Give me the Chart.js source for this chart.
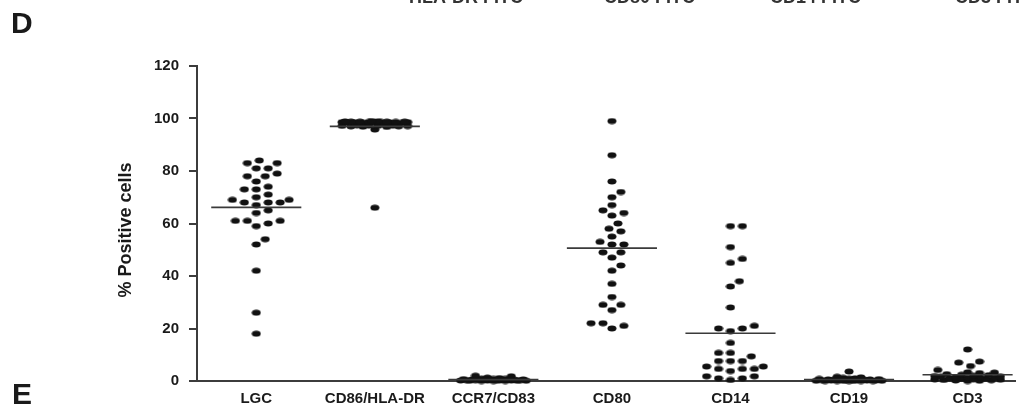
<!DOCTYPE html>
<html>
<head>
<meta charset="utf-8">
<script src="https://cdn.jsdelivr.net/npm/chart.js@4.4.1/dist/chart.umd.min.js"></script>
<style>
  html, body { margin: 0; padding: 0; background: #fff; }
  #wrap { position: relative; width: 1020px; height: 411px; }
</style>
</head>
<body>
<div id="wrap"><canvas id="chart"></canvas></div>
<script>
const categories = ['LGC', 'CD86/HLA-DR', 'CCR7/CD83', 'CD80', 'CD14', 'CD19', 'CD3'];
const yTicks = [0, 20, 40, 60, 80, 100, 120];
const topLabels = ['HLA-DR FITC', 'CD80 FITC', 'CD14 FITC', 'CD3 FITC'];

const lgc = [83, 83, 84, 81, 81, 79, 78, 78, 76, 74, 73, 73, 71, 70, 69, 69, 68, 68, 68, 67, 65, 64, 61, 61, 61, 60, 59, 54, 52, 42, 26, 18];
const cd86 = [99.0, 98.9, 98.9, 98.8, 98.8, 98.8, 98.8, 98.7, 98.7, 98.7, 98.6, 98.6, 98.6, 98.5, 98.5, 98.4, 98.4, 98.3,
  97.6, 97.4, 97.3, 97.3, 97.2, 97.2, 97.1, 97.0, 97.0, 96.9, 96.8, 95.8, 66.0];
const ccr7 = [2.0, 1.8, 1.3, 1.1, 0.9, 0.8, 0.8, 0.7, 0.6, 0.6, 0.5, 0.5, 0.5, 0.4, 0.4, 0.4, 0.3, 0.3, 0.3, 0.3,
  0.2, 0.2, 0.2, 0.2, 0.1, 0.1, 0.1, 0.0, 0.0, 0.0];
const cd80 = [99, 86, 76, 72, 70, 67, 65, 64, 63, 60, 58, 57, 55, 53, 52, 52, 49, 49, 47, 44, 42, 37, 32, 29, 29, 27, 22, 22, 21, 20];
const cd14 = [59, 59, 51, 46.5, 45, 38, 36, 28, 21, 20, 20, 19, 14.5, 10.7, 10.7, 9.4, 7.6, 7.6, 7.6, 5.5, 5.5, 4.6, 4.6, 4.6, 3.8, 1.8, 1.8, 1.0, 1.0, 0.4];
const cd19 = [3.6, 1.6, 1.4, 1.2, 1.0, 0.9, 0.8, 0.7, 0.6, 0.6, 0.5, 0.5, 0.4, 0.4, 0.3, 0.3, 0.3, 0.2, 0.2, 0.2,
  0.1, 0.1, 0.1, 0.1, 0.0, 0.0, 0.0, 0.0, 0.0];
const cd3 = [12.0, 7.4, 7.0, 5.7, 4.2, 3.3, 3.2, 3.0, 2.6, 2.4, 2.2, 2.0, 1.9, 1.8, 1.6, 1.5, 1.4, 1.2, 1.1, 1.0,
  0.9, 0.8, 0.7, 0.6, 0.5, 0.4, 0.3, 0.2, 0.1, 0.0];

const groups = [lgc, cd86, ccr7, cd80, cd14, cd19, cd3];

// layout of the plot box inside the 1020x411 canvas
const AREA_LEFT = 197, AREA_TOP = 66, AREA_BOTTOM = 381, AREA_RIGHT = 1020;
const X_MIN = -0.5, X_MAX = 6.4;
const PX_X = (AREA_RIGHT - AREA_LEFT) / (X_MAX - X_MIN);
const PX_Y = (AREA_BOTTOM - AREA_TOP) / 120;

// simple beeswarm: lowest values first, shift sideways until the dot is free
function swarm(values, idx) {
  const W = 11.5, H = 6.5, STEP = 3, MAXOFF = 34;
  const cands = [0];
  for (let k = STEP; k <= MAXOFF; k += STEP) cands.push(k, -k);
  const placed = [];
  values.slice().sort((a, b) => a - b).forEach(v => {
    const py = v * PX_Y;
    let best = 0, bestScore = -1;
    for (const dx of cands) {
      let minD = Infinity;
      for (const p of placed) {
        const d = ((dx - p.dx) / W) ** 2 + ((py - p.py) / H) ** 2;
        if (d < minD) minD = d;
      }
      if (minD >= 1) { best = dx; bestScore = 99; break; }
      if (minD > bestScore) { bestScore = minD; best = dx; }
    }
    placed.push({ dx: best, py: py, v: v });
  });
  return placed.map(p => ({ x: idx + p.dx / PX_X, y: p.v }));
}

function mean(arr) {
  return arr.reduce((s, v) => s + v, 0) / arr.length;
}

function dotImage() {
  const c = document.createElement('canvas');
  c.width = 10; c.height = 7;
  const g = c.getContext('2d');
  g.fillStyle = '#111';
  g.beginPath();
  g.ellipse(5, 3.5, 4.5, 3.0, 0, 0, Math.PI * 2);
  g.fill();
  return c;
}
const dot = dotImage();

const datasets = [];
groups.forEach((vals, i) => {
  const m = mean(vals);
  datasets.push({
    type: 'line',
    data: [{ x: i - 0.38, y: m }, { x: i + 0.38, y: m }],
    borderColor: '#3a3a3a',
    borderWidth: 1.6,
    pointRadius: 0,
    showLine: true,
    clip: false
  });
});
groups.forEach((vals, i) => {
  datasets.push({
    type: 'scatter',
    data: swarm(vals, i),
    pointStyle: dot,
    pointRadius: 4,
    clip: false
  });
});

const textPlugin = {
  id: 'panelText',
  afterDraw(chart) {
    const ctx = chart.ctx;
    ctx.save();
    ctx.fillStyle = '#1a1a1a';
    ctx.font = 'bold 30px "Liberation Sans", Arial, sans-serif';
    ctx.textAlign = 'left';
    ctx.textBaseline = 'alphabetic';
    ctx.fillText('D', 11, 33);
    ctx.fillText('E', 12, 404);

    // labels of the panel above, cut by the top edge
    ctx.font = 'bold 18px "Liberation Sans", Arial, sans-serif';
    ctx.fillStyle = '#333';
    const starts = [409, 604, 770, 955];
    topLabels.forEach((t, i) => ctx.fillText(t, starts[i], 3));

    // y axis title
    ctx.fillStyle = '#1a1a1a';
    ctx.font = 'bold 18px "Liberation Sans", Arial, sans-serif';
    ctx.translate(126, 230);
    ctx.rotate(-Math.PI / 2);
    ctx.textAlign = 'center';
    ctx.textBaseline = 'middle';
    ctx.fillText('% Positive cells', 0, 0);
    ctx.restore();
  }
};

new Chart(document.getElementById('chart'), {
  type: 'scatter',
  data: { datasets: datasets },
  plugins: [textPlugin],
  options: {
    responsive: true,
    maintainAspectRatio: false,
    animation: false,
    layout: { padding: { top: AREA_TOP, right: 0, bottom: 0, left: 0 } },
    plugins: { legend: { display: false }, tooltip: { enabled: false } },
    scales: {
      x: {
        type: 'linear',
        min: X_MIN,
        max: X_MAX,
        afterFit: (scale) => { scale.height = 411 - AREA_BOTTOM; },
        afterBuildTicks: (scale) => { scale.ticks = categories.map((c, i) => ({ value: i })); },
        border: { display: true, color: '#3c3c3c', width: 2 },
        grid: { drawOnChartArea: false, drawTicks: false },
        ticks: {
          autoSkip: false,
          maxRotation: 0,
          padding: 9,
          color: '#1a1a1a',
          font: { family: '"Liberation Sans", Arial, sans-serif', size: 15, weight: 'bold' },
          callback: (v) => categories[v]
        }
      },
      y: {
        min: 0,
        max: 120,
        afterFit: (scale) => { scale.width = AREA_LEFT; },
        afterBuildTicks: (scale) => { scale.ticks = yTicks.map(v => ({ value: v })); },
        border: { display: true, color: '#3c3c3c', width: 2 },
        grid: { drawOnChartArea: false, drawTicks: true, tickLength: 8, color: '#3c3c3c', lineWidth: 2 },
        ticks: {
          padding: 10,
          color: '#1a1a1a',
          font: { family: '"Liberation Sans", Arial, sans-serif', size: 15, weight: 'bold' }
        }
      }
    }
  }
});
</script>
</body>
</html>
